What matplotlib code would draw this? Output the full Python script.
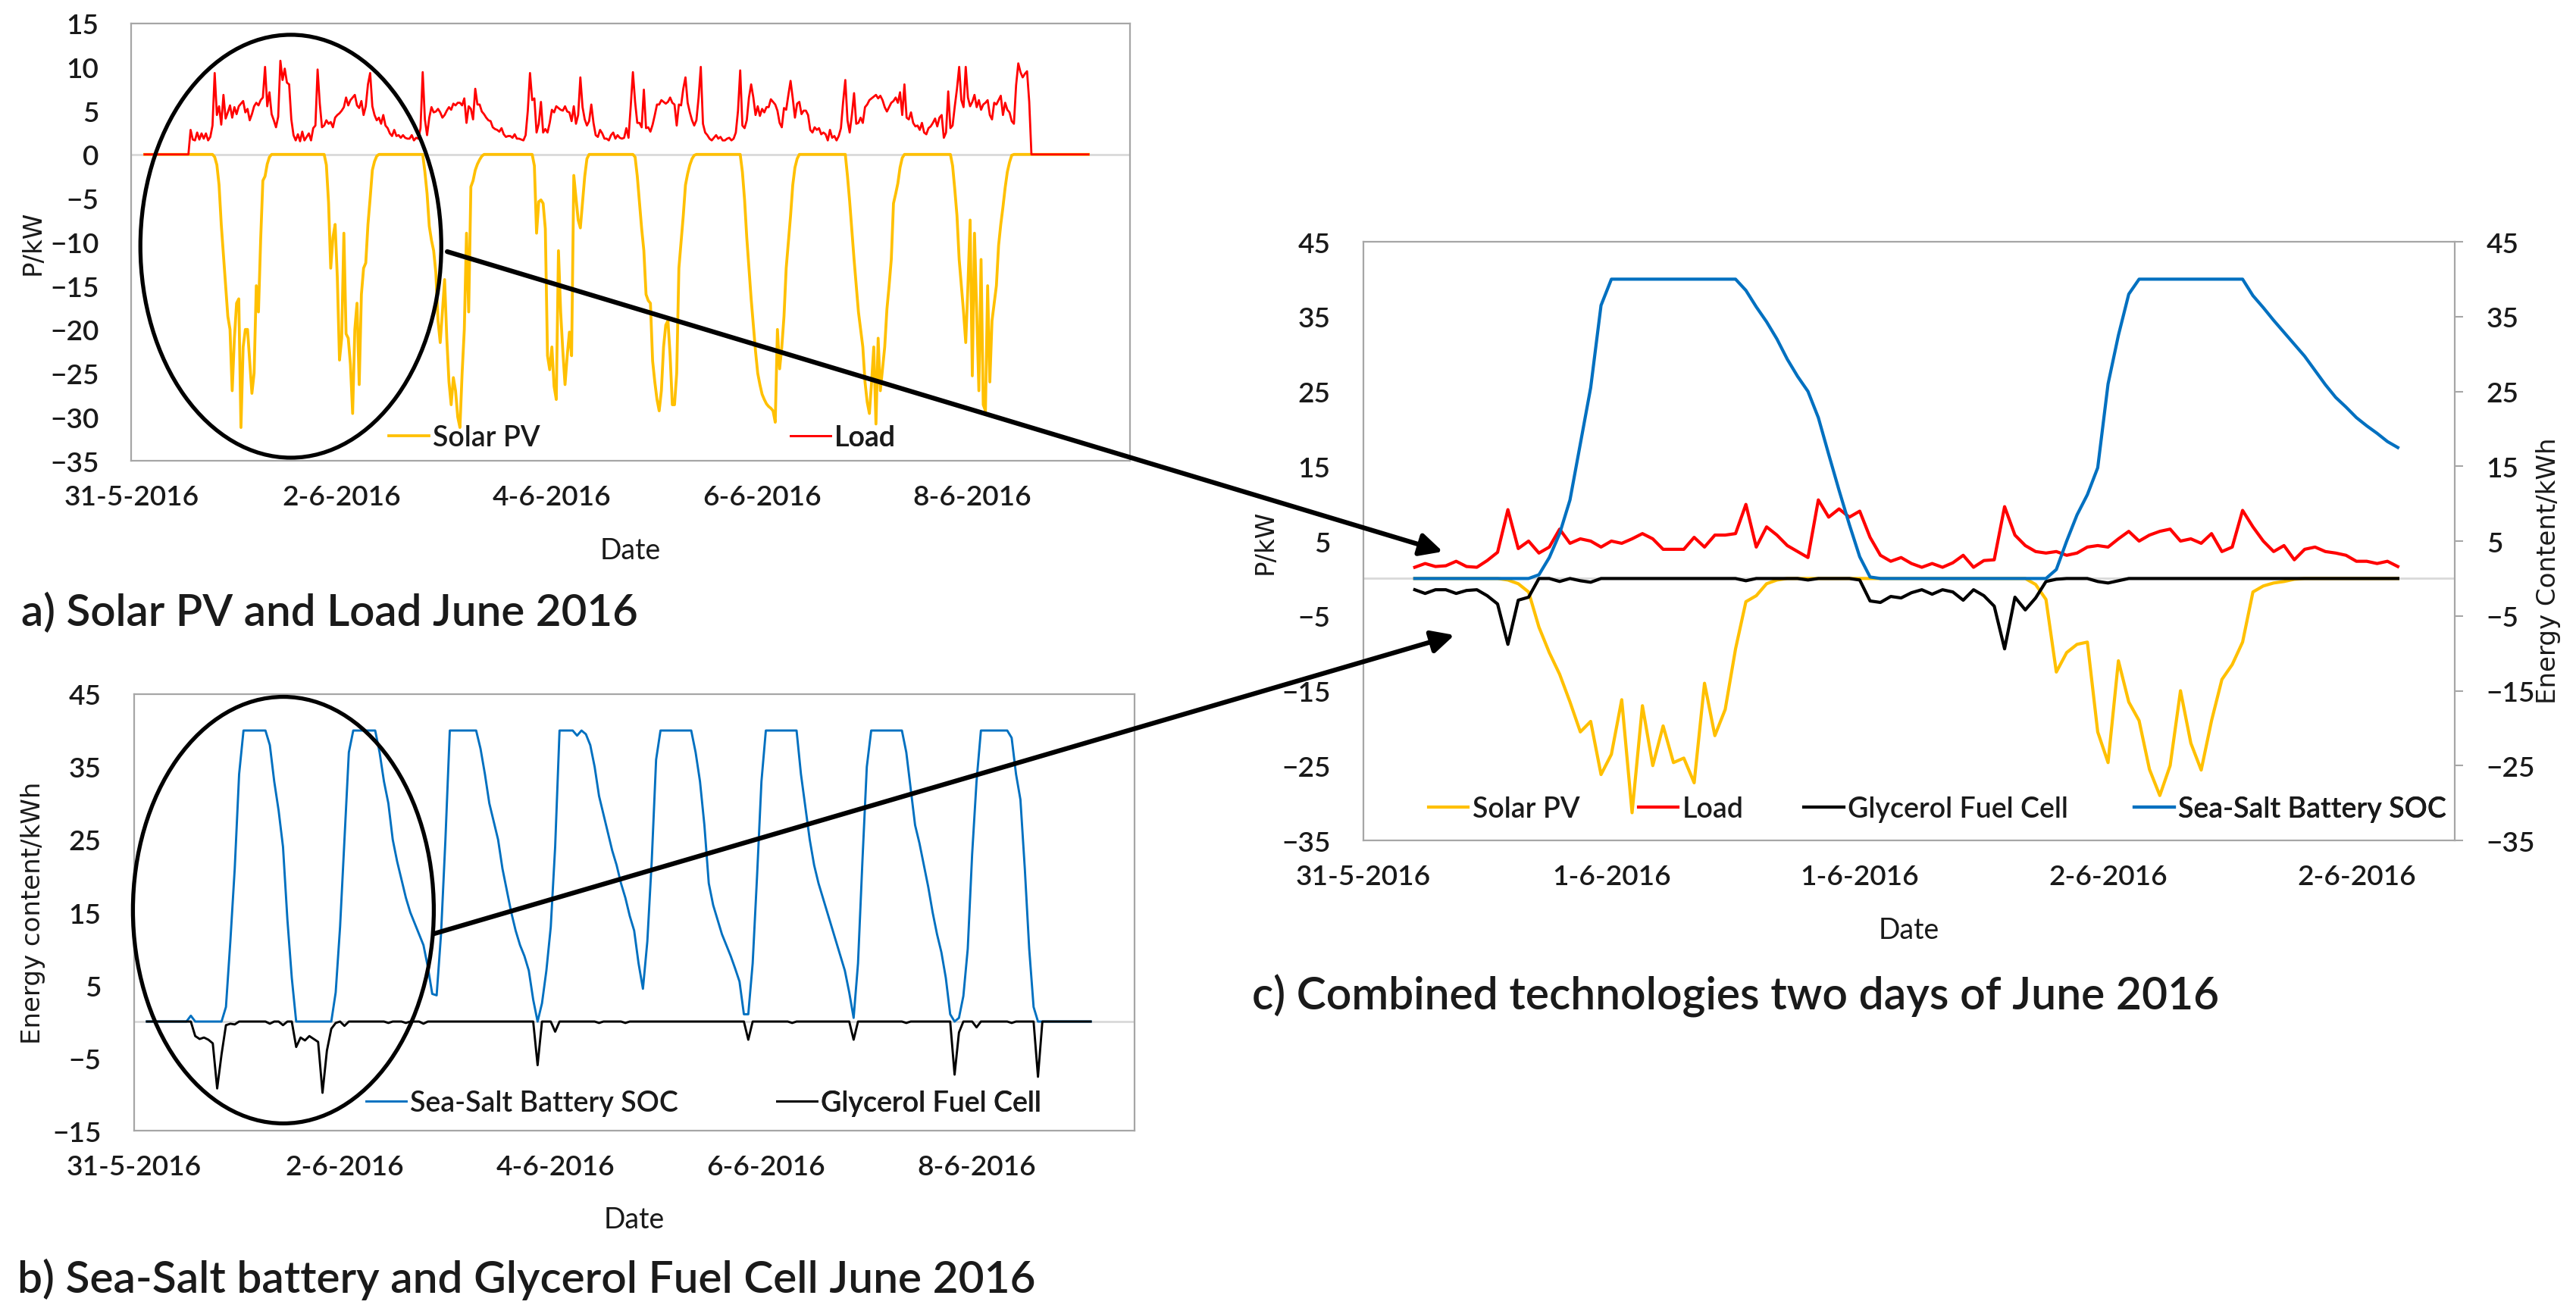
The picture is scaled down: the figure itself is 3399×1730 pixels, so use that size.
import numpy as np
import matplotlib
matplotlib.use("Agg")
import matplotlib.pyplot as plt
from matplotlib.patches import Ellipse, FancyArrowPatch

plt.rcParams['font.family'] = ['Lato', 'DejaVu Sans']
plt.rcParams['font.weight'] = 'semibold'

# ---- data, panel a: half-hourly values, hours 3..218.5 after 31-5-2016 ----
hours_a = np.arange(3, 218.51, 0.5)

load_kw = (
    [0] * 12
    + [0, 0, 0, 0, 0, 0, 0, 0, 0, 2.8, 1.7, 1.6]
    + [2.5, 1.7, 2.4, 1.8, 2.4, 1.6, 2.0, 3.3, 9.3, 4.5, 5.5, 3.4]
    + [6.8, 4.1, 4.8, 5.6, 4.2, 5.4, 4.6, 5.5, 5.8, 6.1, 4.8, 5.2]
    + [3.9, 4.6, 5.5, 5.9, 5.6, 6.2, 6.5, 10.0, 5.5, 7.1, 4.6, 3.9]
    + [3.1, 4.3, 10.7, 8.5, 9.8, 8.2, 8.0, 4.0, 2.2, 1.6, 2.3, 1.5]
    + [2.6, 1.6, 2.0, 2.4, 1.6, 3.0, 3.3, 9.7, 5.8, 3.1, 3.3, 3.9]
    + [3.5, 3.7, 3.1, 4.2, 4.5, 4.7, 5.0, 5.4, 6.5, 5.6, 6.2, 6.5]
    + [6.8, 5.6, 5.3, 6.1, 4.5, 5.5, 8.0, 9.3, 5.5, 4.5, 3.9, 4.2]
    + [3.5, 4.5, 3.3, 3.0, 2.4, 2.1, 2.8, 2.1, 2.2, 1.9, 2.2, 1.9]
    + [1.8, 1.8, 2.2, 1.6, 1.9, 1.8, 3.0, 9.4, 4.0, 2.2, 4.2, 5.4]
    + [4.8, 4.9, 5.2, 4.8, 4.2, 4.5, 5.0, 5.4, 5.1, 5.8, 5.6, 5.9]
    + [5.9, 5.6, 6.4, 3.6, 5.5, 5.2, 4.0, 7.5, 5.7, 5.7, 4.9, 4.6]
    + [4.2, 3.9, 3.8, 3.1, 2.9, 2.8, 2.6, 3.0, 2.3, 2.0, 2.1, 2.1]
    + [1.9, 2.3, 1.8, 1.8, 1.7, 1.6, 2.2, 5.0, 9.3, 6.2, 6.4, 2.5]
    + [3.5, 6.0, 2.5, 2.9, 2.5, 3.6, 5.1, 4.8, 5.5, 5.3, 5.1, 5.0]
    + [5.5, 4.9, 4.8, 3.8, 5.5, 3.5, 4.5, 8.8, 5.4, 4.0, 3.3, 3.8]
    + [5.7, 3.6, 2.2, 2.0, 2.8, 2.4, 1.8, 1.8, 1.6, 2.2, 2.5, 1.8]
    + [2.2, 1.9, 1.8, 1.9, 3.0, 1.9, 5.5, 9.4, 6.0, 3.6, 3.6, 3.1]
    + [7.4, 3.0, 3.1, 2.6, 3.4, 4.5, 5.7, 5.7, 6.2, 6.0, 5.8, 6.0]
    + [6.5, 5.9, 5.7, 3.3, 5.7, 5.6, 7.5, 8.8, 5.9, 4.8, 3.9, 3.3]
    + [3.9, 6.5, 10.0, 3.5, 2.5, 2.2, 1.8, 1.6, 1.9, 2.2, 1.8, 2.0]
    + [1.6, 1.6, 1.8, 1.9, 1.6, 1.8, 2.5, 5.0, 9.6, 3.3, 3.0, 3.9]
    + [6.5, 8.0, 6.5, 4.5, 5.5, 4.4, 5.2, 4.8, 5.4, 5.4, 6.3, 6.0]
    + [5.7, 5.0, 3.6, 3.1, 5.3, 5.1, 6.8, 8.4, 6.4, 4.2, 5.8, 6.0]
    + [4.6, 5.0, 5.0, 4.5, 2.8, 2.5, 3.1, 2.8, 3.0, 2.3, 2.5, 2.3]
    + [1.6, 2.8, 1.9, 2.1, 1.6, 2.1, 3.0, 6.0, 8.5, 3.9, 2.5, 4.5]
    + [7.0, 3.5, 3.6, 4.2, 3.6, 5.4, 5.7, 6.2, 6.4, 6.6, 6.8, 6.4]
    + [6.7, 6.2, 5.4, 4.9, 5.4, 5.9, 6.1, 6.5, 5.9, 7.1, 4.5, 8.0]
    + [4.2, 4.0, 4.8, 3.6, 3.2, 3.3, 2.8, 3.6, 2.5, 2.3, 3.0, 3.2]
    + [3.6, 4.1, 3.2, 4.2, 4.5, 1.9, 2.5, 7.2, 3.0, 3.3, 5.5, 7.5]
    + [10.0, 6.2, 5.4, 10.0, 6.5, 5.5, 6.0, 6.8, 5.4, 6.2, 5.1, 5.7]
    + [5.9, 6.2, 4.5, 4.0, 5.9, 5.7, 6.2, 6.7, 4.5, 5.9, 5.1, 4.8]
    + [3.8, 3.5, 7.9, 10.4, 9.4, 8.8, 9.2, 9.5, 6.0, 0, 0, 0]
    + [0] * 12
    + [0] * 12
)

solar_kw = (
    [0] * 12
    + [0] * 12
    + [0, 0, 0, 0, 0, 0, 0, 0, -0.3, -1.2, -3.5, -8]
    + [-11.5, -15, -18.5, -20, -27, -21, -17, -16.5, -31.2, -22, -20, -20]
    + [-23.6, -27.3, -25, -15, -18, -9.7, -3, -2.5, -1.1, -0.3, 0, 0]
    + [0] * 12
    + [0, 0, 0, 0, 0, 0, 0, 0, 0, 0, 0, -1.2]
    + [-5.5, -13, -9.5, -8, -14, -23.5, -21, -9, -20.5, -21, -24, -29.6]
    + [-20, -17, -26.3, -16, -13, -12.4, -8, -5, -1.8, -0.8, -0.2, 0]
    + [0] * 12
    + [0, 0, 0, 0, 0, 0, 0, 0, -2, -4.5, -8.2, -9.8]
    + [-11, -13.5, -19, -21.5, -18, -14.3, -21, -26, -28.6, -25.5, -27, -30]
    + [-31.2, -25, -20, -9, -18, -3.7, -3, -1.8, -1.1, -0.6, -0.2, 0]
    + [0] * 12
    + [0, 0, 0, 0, 0, 0, 0, 0, 0, 0, -1.3, -9]
    + [-5.4, -5.2, -5.6, -8.5, -23, -24.6, -22, -26.5, -28, -11, -18, -22.5]
    + [-26.3, -23, -20.3, -23, -2.4, -5, -7.5, -8.4, -5.5, -2.5, -0.5, 0]
    + [0] * 12
    + [0, 0, 0, 0, 0, 0, 0, 0, -0.3, -2.5, -5.5, -8.5]
    + [-11, -16, -16.7, -17, -23.6, -26, -28, -29.3, -27, -22, -19.5, -19]
    + [-23, -28.6, -28.6, -25, -13, -10, -7, -3.5, -2.2, -1.2, -0.5, -0.1]
    + [0] * 12
    + [0, 0, 0, 0, 0, 0, 0, 0, 0, -2, -5.2, -9.5]
    + [-13, -16.5, -19.5, -22.5, -25, -26.3, -27.4, -28, -28.5, -28.8, -29, -29.3]
    + [-30.6, -20, -24.5, -22, -18.5, -13, -10, -7, -3.5, -1.5, -0.5, 0]
    + [0] * 12
    + [0, 0, 0, 0, 0, 0, 0, 0, 0, -2.5, -5.4, -8.7]
    + [-12, -15, -18, -20, -22, -26, -28.3, -29.6, -26, -22, -30.8, -21]
    + [-27, -24.5, -22, -17.7, -15, -12, -5.6, -4.5, -3.3, -1.5, -0.4, 0]
    + [0] * 12
    + [0, 0, 0, 0, 0, 0, 0, 0, 0, -1.3, -4, -7]
    + [-12, -15, -18, -21.5, -15, -7.5, -25.3, -9, -18, -27, -12, -28.6]
    + [-29.3, -15, -26, -19, -17, -15, -10.4, -8, -6, -3.8, -2, -0.9]
    + [-0.1, 0, 0, 0, 0, 0, 0, 0, 0, 0, 0, 0]
    + [0] * 12
    + [0] * 12
)

# ---- data, panel b: hourly values, hours 3..218 ----
hours_b = np.arange(3, 219)

soc_kwh = (
    [0, 0, 0, 0, 0, 0, 0, 0, 0, 0, 0.8, 0]
    + [0, 0, 0, 0, 0, 0, 2, 11, 21, 34, 40, 40]
    + [40, 40, 40, 40, 38, 33, 29, 24, 14, 6, 0, 0]
    + [0, 0, 0, 0, 0, 0, 0, 4, 13, 25, 37, 40]
    + [40, 40, 40, 40, 40, 37, 33, 30, 25, 22, 19.5, 17]
    + [15, 13.5, 12, 10.5, 7.5, 3.8, 3.6, 12, 25, 40, 40, 40]
    + [40, 40, 40, 40, 37.5, 34, 30, 27.5, 25, 21, 18, 15]
    + [12.5, 10.5, 9, 7, 3, 0, 2.5, 7, 13, 24, 40, 40]
    + [40, 40, 39.3, 40, 39.5, 38, 35, 31, 28.5, 26, 23.5, 21.5]
    + [19, 17, 14.5, 12.5, 8, 4.5, 11, 22, 36, 40, 40, 40]
    + [40, 40, 40, 40, 40, 37, 33, 27, 19, 16, 14, 12]
    + [10.5, 9, 7.3, 5.5, 1, 1, 8, 20, 33, 40, 40, 40]
    + [40, 40, 40, 40, 40, 34, 29.5, 25, 21.5, 19, 17, 15]
    + [13, 11, 9, 7, 4, 0.5, 8, 22, 35, 40, 40, 40]
    + [40, 40, 40, 40, 40, 37, 32, 27, 24.5, 21.5, 18.5, 15]
    + [12, 9.5, 6, 1, 0, 0.5, 3.5, 10, 23, 33, 40, 40]
    + [40, 40, 40, 40, 40, 39, 34, 30.5, 21, 10, 2, 0]
    + [0] * 12
)

fuel_cell_kw = (
    [0, 0, 0, 0, 0, 0, 0, 0, 0, 0, 0, -2]
    + [-2.4, -2.2, -2.5, -3, -9.2, -4.5, -0.5, -0.3, -0.4, 0, 0, 0]
    + [0, 0, 0, 0, -0.3, 0, 0, -0.5, 0, 0, -3.5, -2.2]
    + [-2.6, -2.0, -2.4, -2.8, -9.8, -4, -1, -0.2, 0, -0.6, 0, 0]
    + [0, 0, 0, 0, 0, 0, 0, -0.2, 0, 0, 0, -0.2]
    + [0, 0, 0, -0.3, 0, 0, 0, 0, 0, 0, 0, 0]
    + [0] * 12
    + [0, 0, 0, 0, 0, -6, 0, 0, 0, -1.4, 0, 0]
    + [0, 0, 0, 0, 0, 0, 0, -0.2, 0, 0, 0, 0]
    + [0, -0.2, 0, 0, 0, 0, 0, 0, 0, 0, 0, 0]
    + [0] * 12
    + [0, 0, 0, 0, 0, -2.5, 0, 0, 0, 0, 0, 0]
    + [0, 0, 0, -0.2, 0, 0, 0, 0, 0, 0, 0, 0]
    + [0, 0, 0, 0, 0, -2.5, 0, 0, 0, 0, 0, 0]
    + [0, 0, 0, 0, 0, -0.2, 0, 0, 0, 0, 0, 0]
    + [0, 0, 0, 0, -7.3, -1.5, 0, 0, 0, -0.8, 0, 0]
    + [0, 0, 0, 0, 0, -0.2, 0, 0, 0, 0, 0, -7.6]
    + [0] * 12
)

# ---- data, panel c: half-hourly values over two days ----
hours_c = np.arange(2.5, 50.01, 0.5)

load_c = [
    1.5, 2.0, 1.6, 1.7, 2.3, 1.6, 1.5, 2.4,
    3.5, 9.2, 4.0, 5.0, 3.4, 4.2, 6.6, 4.7,
    5.3, 5.0, 4.2, 5.0, 4.7, 5.3, 6.0, 5.3,
    3.9, 3.9, 3.9, 5.5, 4.2, 5.8, 5.8, 6.0,
    9.9, 4.2, 6.9, 5.8, 4.4, 3.6, 2.8, 10.5,
    8.2, 9.3, 8.2, 9.0, 5.5, 3.1, 2.3, 2.8,
    2.0, 1.5, 2.0, 1.5, 2.1, 3.1, 1.5, 2.4,
    2.5, 9.6, 5.8, 4.4, 3.6, 3.4, 3.6, 3.1,
    3.4, 4.2, 4.4, 4.2, 5.3, 6.3, 5.0, 5.8,
    6.3, 6.6, 5.0, 5.3, 4.7, 6.0, 3.6, 4.2,
    9.1, 6.9, 5.0, 3.6, 4.4, 2.5, 3.9, 4.2,
    3.6, 3.4, 3.1, 2.3, 2.3, 2.0, 2.3, 1.6,
]

solar_c = [
    0, 0, 0, 0, 0, 0, 0, 0,
    0, -0.2, -0.7, -1.8, -6.5, -9.9, -12.8, -16.5,
    -20.5, -19.1, -26.2, -23.5, -16.2, -31.3, -17, -25,
    -19.7, -24.6, -24, -27.3, -14, -21, -17.5, -9.4,
    -3.1, -2.3, -0.7, -0.2, 0, 0, 0, 0,
    0, 0, 0, 0, 0, 0, 0, 0,
    0, 0, 0, 0, 0, 0, 0, 0,
    0, 0, 0, 0, -0.8, -2.8, -12.5, -9.9,
    -8.8, -8.5, -20.5, -24.6, -11, -16.5, -19, -25.5,
    -29, -25, -15, -22, -25.6, -19, -13.5, -11.5,
    -8.5, -1.8, -1.0, -0.6, -0.4, -0.1, 0, 0,
    0, 0, 0, 0, 0, 0, 0, 0,
]

fuel_cell_c = [
    -1.5, -2.0, -1.5, -1.5, -2.0, -1.6, -1.5, -2.3,
    -3.4, -8.8, -2.9, -2.5, 0, 0, -0.4, 0,
    -0.3, -0.5, 0, 0, 0, 0, 0, 0,
    0, 0, 0, 0, 0, 0, 0, 0,
    -0.3, 0, 0, 0, 0, 0, -0.2, 0,
    0, 0, 0, -0.2, -3.0, -3.2, -2.4, -2.6,
    -1.9, -1.5, -2.1, -1.5, -1.8, -2.9, -1.5, -2.3,
    -3.7, -9.4, -2.5, -4.2, -2.6, -0.4, -0.1, 0,
    0, 0, -0.4, -0.6, -0.3, 0, 0, 0,
    0, 0, 0, 0, 0, 0, 0, 0,
    0, 0, 0, 0, 0, 0, 0, 0,
    0, 0, 0, 0, 0, 0, 0, 0,
]

soc_c = [
    0, 0, 0, 0, 0, 0, 0, 0,
    0, 0, 0, 0, 0.5, 2.8, 6, 10.5,
    18, 25.5, 36.5, 40, 40, 40, 40, 40,
    40, 40, 40, 40, 40, 40, 40, 40,
    38.5, 36.3, 34.3, 32.0, 29.3, 27.0, 25.0, 21.5,
    16.6, 11.8, 7.2, 2.9, 0.2, 0, 0, 0,
    0, 0, 0, 0, 0, 0, 0, 0,
    0, 0, 0, 0, 0, 0, 1.2, 5,
    8.5, 11.2, 14.8, 26, 32.5, 38, 40, 40,
    40, 40, 40, 40, 40, 40, 40, 40,
    40, 37.8, 36.2, 34.5, 32.9, 31.3, 29.7, 27.8,
    25.9, 24.2, 22.9, 21.5, 20.4, 19.4, 18.3, 17.5,
]

ticks_ab = [0, 2, 4, 6, 8]
labels_ab = ['31-5-2016', '2-6-2016', '4-6-2016', '6-6-2016', '8-6-2016']
ticks_c = [0, 0.5, 1, 1.5, 2]
labels_c = ['31-5-2016', '1-6-2016', '1-6-2016', '2-6-2016', '2-6-2016']

yticks_a = [-35, -30, -25, -20, -15, -10, -5, 0, 5, 10, 15]
yticks_b = [-15, -5, 5, 15, 25, 35, 45]
yticks_c = [-35, -25, -15, -5, 5, 15, 25, 35, 45]

# ---- style ----
C_SOLAR = '#FFC000'
C_LOAD = '#FF0000'
C_SOC = '#0070C0'
C_FC = '#000000'
SPINE = '#a6a6a6'
ZERO = '#d9d9d9'
TXT = '#1a1a1a'
TICK_FS = 25
LEG_FS = 27
LAB_FS = 24.5

fig = plt.figure(figsize=(33.99, 17.31), dpi=100)
ax_a = fig.add_axes([0.05104, 0.64818, 0.38761, 0.33362])
ax_b = fig.add_axes([0.05193, 0.13749, 0.38850, 0.33276])
ax_c = fig.add_axes([0.52913, 0.35875, 0.42380, 0.45638])


def style_axes(ax):
    for s in ax.spines.values():
        s.set_color(SPINE)
        s.set_linewidth(1.6)
    ax.tick_params(length=0, labelsize=TICK_FS, labelcolor=TXT)
    ax.tick_params(axis='y', pad=31)
    ax.tick_params(axis='x', pad=22)
    ax.axhline(0, color=ZERO, lw=2, zorder=0.5)


def legend_entry(ax, line, label, x, y):
    leg = ax.legend([line], [label], loc='center left', bbox_to_anchor=(x, y),
                    frameon=False, borderpad=0, borderaxespad=0,
                    handlelength=1.4, handletextpad=0.15, fontsize=LEG_FS)
    for t in leg.get_texts():
        t.set_color(TXT)
    ax.add_artist(leg)
    return leg


# a) Solar PV and load
days_a = hours_a / 24
l_sol, = ax_a.plot(days_a, solar_kw, color=C_SOLAR, lw=2.7, solid_joinstyle='round')
l_load, = ax_a.plot(days_a, load_kw, color=C_LOAD, lw=2.0, solid_joinstyle='round')
ax_a.set_xlim(0, 9.5)
ax_a.set_ylim(-35, 15)
ax_a.set_xticks(ticks_ab, labels_ab)
ax_a.set_yticks(yticks_a)
style_axes(ax_a)
ax_a.set_ylabel('P/kW', family='DejaVu Sans', fontsize=LAB_FS, color=TXT, va='center')
ax_a.yaxis.set_label_coords(-0.099, 0.5)
ax_a.set_xlabel('Date', fontsize=27, color=TXT, va='center')
ax_a.xaxis.set_label_coords(0.5, -0.2043)
legend_entry(ax_a, l_sol, 'Solar PV', 0.2577, 0.052)
legend_entry(ax_a, l_load, 'Load', 0.660, 0.052)

# b) battery and fuel cell
days_b = hours_b / 24
l_soc_b, = ax_b.plot(days_b, soc_kwh, color=C_SOC, lw=2.1, solid_joinstyle='round')
l_fc_b, = ax_b.plot(days_b, fuel_cell_kw, color=C_FC, lw=2.1, solid_joinstyle='round')
ax_b.set_xlim(0, 9.5)
ax_b.set_ylim(-15, 45)
ax_b.set_xticks(ticks_ab, labels_ab)
ax_b.set_yticks(yticks_b)
style_axes(ax_b)
ax_b.set_ylabel('Energy content/kWh', family='DejaVu Sans', fontsize=LAB_FS, color=TXT, va='center')
ax_b.yaxis.set_label_coords(-0.101, 0.5)
ax_b.set_xlabel('Date', fontsize=27, color=TXT, va='center')
ax_b.xaxis.set_label_coords(0.5, -0.203)
legend_entry(ax_b, l_soc_b, 'Sea-Salt Battery SOC', 0.2321, 0.064)
legend_entry(ax_b, l_fc_b, 'Glycerol Fuel Cell', 0.6426, 0.064)

# c) combined, two days
days_c = hours_c / 24
lc_sol, = ax_c.plot(days_c, solar_c, color=C_SOLAR, lw=3.0, solid_joinstyle='round')
lc_load, = ax_c.plot(days_c, load_c, color=C_LOAD, lw=3.0, solid_joinstyle='round')
lc_fc, = ax_c.plot(days_c, fuel_cell_c, color=C_FC, lw=3.0, solid_joinstyle='round')
lc_soc, = ax_c.plot(days_c, soc_c, color=C_SOC, lw=3.0, solid_joinstyle='round')
ax_c.set_xlim(0, 2.198)
ax_c.set_ylim(-35, 45)
ax_c.set_xticks(ticks_c, labels_c)
ax_c.set_yticks(yticks_c)
style_axes(ax_c)
ax_c.set_ylabel('P/kW', family='DejaVu Sans', fontsize=LAB_FS, color=TXT, va='center')
ax_c.yaxis.set_label_coords(-0.0899, 0.5)
ax_c.set_xlabel('Date', fontsize=27, color=TXT, va='center')
ax_c.xaxis.set_label_coords(0.5, -0.149)

ax_r = ax_c.twinx()
ax_r.set_ylim(-35, 45)
ax_r.set_yticks(yticks_c)
for s in ax_r.spines.values():
    s.set_visible(False)
ax_r.tick_params(axis='y', length=8, width=1.5, color=SPINE, direction='out',
                 labelsize=TICK_FS, labelcolor=TXT, pad=22)
ax_r.set_ylabel('Energy Content/kWh', family='DejaVu Sans', fontsize=LAB_FS, color=TXT,
                va='center', rotation=90)
ax_r.yaxis.set_label_coords(1.086, 0.452)

legend_entry(ax_c, lc_sol, 'Solar PV', 0.060, 0.053)
legend_entry(ax_c, lc_load, 'Load', 0.2523, 0.053)
legend_entry(ax_c, lc_fc, 'Glycerol Fuel Cell', 0.4037, 0.053)
legend_entry(ax_c, lc_soc, 'Sea-Salt Battery SOC', 0.7064, 0.053)

# panel titles
t_a = fig.text(0.00824, 0.5326, 'a) Solar PV and Load June 2016', fontsize=42, color=TXT, va='center')
t_b = fig.text(0.00677, 0.0248, 'b) Sea-Salt battery and Glycerol Fuel Cell June 2016', fontsize=42,
               color=TXT, va='center')
t_c = fig.text(0.486, 0.2409, 'c) Combined technologies two days of June 2016', fontsize=42,
               color=TXT, va='center')

# scale titles and tick labels to the widths they take in the original figure (px)
fig.canvas.draw()
renderer = fig.canvas.get_renderer()
for t, target in [(t_a, 814), (t_b, 1344), (t_c, 1277)]:
    w = t.get_window_extent(renderer).width
    t.set_fontsize(t.get_fontsize() * target / w)
w_tick = ax_a.get_xticklabels()[0].get_window_extent(renderer).width
tick_fs = TICK_FS * 178 / w_tick
for ax in (ax_a, ax_b, ax_c, ax_r):
    ax.tick_params(labelsize=tick_fs)

# circles around the two-day window and arrows to panel c
fig.add_artist(Ellipse((0.1129, 0.8117), 0.1168, 0.3224, transform=fig.transFigure,
                       fill=False, ec='black', lw=3.8, zorder=10))
fig.add_artist(Ellipse((0.1100, 0.3056), 0.1168, 0.3252, transform=fig.transFigure,
                       fill=False, ec='black', lw=3.8, zorder=10))
fig.add_artist(FancyArrowPatch((0.1736, 0.8076), (0.5601, 0.5789), transform=fig.transFigure,
                               arrowstyle='-|>', mutation_scale=45, lw=4.5, color='black',
                               shrinkA=0, shrinkB=0, zorder=10))
fig.add_artist(FancyArrowPatch((0.1686, 0.2877), (0.5646, 0.5153), transform=fig.transFigure,
                               arrowstyle='-|>', mutation_scale=45, lw=4.5, color='black',
                               shrinkA=0, shrinkB=0, zorder=10))

fig.savefig('out.png', dpi=100)
